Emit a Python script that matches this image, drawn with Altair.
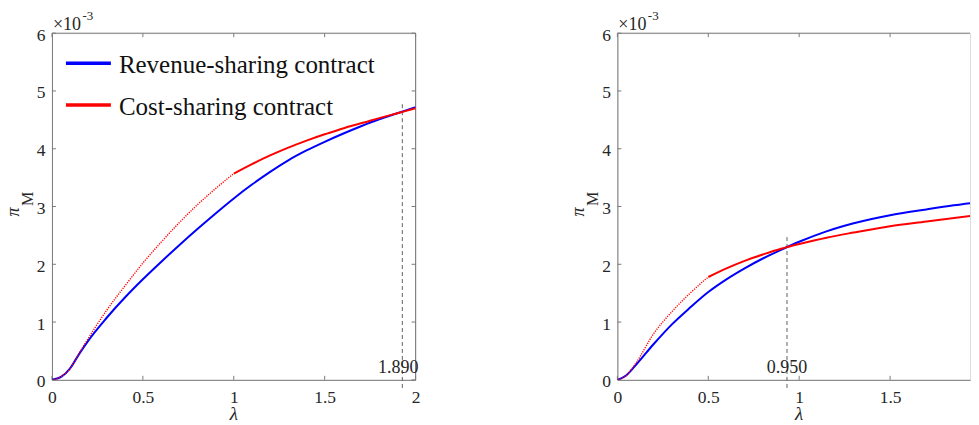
import altair as alt
import pandas as pd

# ---------------- data (pi_M in units of 1e-3) ----------------
x_ticks = [0, 0.5, 1, 1.5, 2]
y_ticks = [0, 1, 2, 3, 4, 5, 6]

series_names = ["Revenue-sharing contract", "Cost-sharing contract"]
series_colors = ["#0000FF", "#FF0000"]

# left panel: revenue-sharing (blue)
lamL_rs = [0, 0.05, 0.1, 0.15, 0.2, 0.3, 0.4, 0.5, 0.6, 0.7, 0.8, 0.9, 1.0,
           1.1, 1.2, 1.3, 1.4, 1.5, 1.6, 1.7, 1.8, 1.9, 2.0]
piL_rs = [0, 0.05, 0.2, 0.45, 0.68, 1.07, 1.42, 1.74, 2.04, 2.33, 2.61, 2.88, 3.14,
          3.38, 3.6, 3.8, 3.97, 4.12, 4.26, 4.39, 4.51, 4.615, 4.72]
# left panel: cost-sharing (red), dotted part then solid part
lamL_cs_dot = [0, 0.05, 0.1, 0.15, 0.2, 0.3, 0.4, 0.5, 0.6, 0.7, 0.8, 0.9, 1.0]
piL_cs_dot = [0, 0.05, 0.2, 0.46, 0.72, 1.2, 1.62, 2.02, 2.38, 2.72, 3.03, 3.31, 3.57]
lamL_cs = [1.0, 1.1, 1.2, 1.3, 1.4, 1.5, 1.6, 1.64, 1.7, 1.8, 1.9, 2.0]
piL_cs = [3.57, 3.735, 3.885, 4.02, 4.14, 4.25, 4.35, 4.39, 4.44, 4.53, 4.615, 4.70]

# right panel: revenue-sharing (blue)
lamR_rs = [0, 0.05, 0.1, 0.2, 0.3, 0.4, 0.5, 0.6, 0.7, 0.8, 0.9, 1.0,
           1.15, 1.3, 1.5, 1.7, 1.85, 2.0]
piR_rs = [0, 0.08, 0.25, 0.62, 0.96, 1.25, 1.52, 1.74, 1.93, 2.1, 2.25, 2.39,
          2.57, 2.71, 2.85, 2.95, 3.02, 3.08]
# right panel: cost-sharing (red)
lamR_cs_dot = [0, 0.05, 0.1, 0.2, 0.3, 0.4, 0.5]
piR_cs_dot = [0, 0.08, 0.28, 0.8, 1.18, 1.5, 1.78]
lamR_cs = [0.5, 0.6, 0.7, 0.8, 0.9, 0.936, 1.0, 1.15, 1.3, 1.5, 1.7, 2.0]
piR_cs = [1.78, 1.93, 2.06, 2.17, 2.27, 2.30, 2.35, 2.46, 2.55, 2.66, 2.74, 2.86]

# vertical reference lines and their labels
vline_x = [1.927, 0.933]
vline_top = [4.77, 2.47]
vline_bottom = -0.14
vline_labels = ["1.890", "0.950"]

# ---------------- styling ----------------
H = 347
W_L = 364            # left panel: lambda 0..2
W_R = 353            # right panel is cut at the page edge
PX_PER_UNIT = W_L / 2.0
FONT = "Liberation Serif"
AX = "#7a7a7a"
TXT = "#262626"

ys = alt.Scale(domain=[0, 6], nice=False, zero=False)


def make_axes(xt):
    xaxis = alt.Axis(values=xt, format="~g", title=None, labelFlush=False,
                     labelOverlap=False, ticks=False, grid=False, domain=True,
                     domainColor=AX, domainWidth=1,
                     labelFont=FONT, labelFontSize=17.5, labelColor=TXT, labelPadding=9)
    yaxis = alt.Axis(values=y_ticks, format="d", title=None, labelFlush=False,
                     labelOverlap=False, ticks=False, grid=False, domain=True,
                     domainColor=AX, domainWidth=1, labelOffset=2,
                     labelFont=FONT, labelFontSize=17.5, labelColor=TXT, labelPadding=7)
    return xaxis, yaxis


def text_layer(txt, x, y, size, angle=0, align="left", color=TXT, style="normal"):
    df = pd.DataFrame({"t": [txt]})
    kw = dict(font=FONT, fontSize=size, color=color, align=align,
              baseline="alphabetic", fontStyle=style)
    if angle:
        kw["angle"] = angle
    return alt.Chart(df).mark_text(**kw).encode(
        text="t:N", x=alt.value(x), y=alt.value(y))


def panel(lam_rs, pi_rs, lam_dot, pi_dot, lam_cs, pi_cs, idx, label_dx, legend, W):
    full = W == W_L
    xmax = W / PX_PER_UNIT
    xs = alt.Scale(domain=[0, xmax], nice=False, zero=False)
    xt = [t for t in x_ticks if t <= xmax + 1e-9]
    xaxis, yaxis = make_axes(xt)

    def X(f):
        return alt.X(f, scale=xs, axis=xaxis)

    def Y(f):
        return alt.Y(f, scale=ys, axis=yaxis)

    def line_layer(lam, pi, color, dash=None, width=2.0):
        df = pd.DataFrame({"lam": lam, "pi": pi})
        kw = dict(color=color, strokeWidth=width, interpolate="monotone", clip=True)
        if dash:
            kw["strokeDash"] = dash
        return alt.Chart(df).mark_line(**kw).encode(x=X("lam:Q"), y=Y("pi:Q"))

    xtd = pd.DataFrame({"t": xt})
    ytd = pd.DataFrame({"t": y_ticks})
    one = ytd.head(1)
    layers = [
        # invisible guide fixing the top of the drawing
        alt.Chart(one).mark_rule(strokeWidth=1, strokeOpacity=0).encode(
            x=alt.value(0), x2=alt.value(10), y=alt.value(-24.5)),
        alt.Chart(xtd).mark_rule(color=AX, strokeWidth=1).encode(
            x=X("t:Q"), y=alt.value(H), y2=alt.value(H - 4)),
        alt.Chart(xtd).mark_rule(color=AX, strokeWidth=1).encode(
            x=X("t:Q"), y=alt.value(0), y2=alt.value(4)),
        alt.Chart(ytd).mark_rule(color=AX, strokeWidth=1).encode(
            y=Y("t:Q"), x=alt.value(0), x2=alt.value(4)),
        # top frame line
        alt.Chart(one).mark_rule(color=AX, strokeWidth=1).encode(
            x=alt.value(0), x2=alt.value(W), y=alt.value(0)),
    ]
    if full:
        layers.append(alt.Chart(ytd).mark_rule(color=AX, strokeWidth=1).encode(
            y=Y("t:Q"), x=alt.value(W - 4), x2=alt.value(W)))
        layers.append(alt.Chart(one).mark_rule(color=AX, strokeWidth=1).encode(
            x=alt.value(W), y=alt.value(0), y2=alt.value(H)))

    vdf = pd.DataFrame({"x": [vline_x[idx]], "y1": [vline_bottom],
                        "y2": [vline_top[idx]], "lab": [vline_labels[idx]]})
    layers.append(alt.Chart(vdf).mark_rule(color="#606060", strokeWidth=1,
                                           strokeDash=[4, 3]).encode(
        x=X("x:Q"), y=Y("y1:Q"), y2="y2:Q"))
    layers.append(alt.Chart(vdf).mark_text(font=FONT, fontSize=18, color=TXT,
                                           align="center", baseline="alphabetic",
                                           dx=label_dx).encode(
        x=X("x:Q"), y=alt.value(340), text="lab:N"))
    layers.append(line_layer(lam_rs, pi_rs, series_colors[0], width=2.0))
    layers.append(line_layer(lam_dot, pi_dot, series_colors[1], dash=[1.2, 1.2], width=1.4))
    layers.append(line_layer(lam_cs, pi_cs, series_colors[1], width=2.0))
    # exponent label
    layers.append(text_layer("×10", 1, -3, 18))
    layers.append(text_layer("-3", 30.5, -13, 13))
    # y title  pi_M
    layers.append(text_layer("π", -33, 179, 18, angle=270, align="center", style="italic"))
    layers.append(text_layer("M", -19, 166, 16, angle=270, align="center"))
    # x title lambda (centred under lambda = 1)
    layers.append(text_layer("λ", PX_PER_UNIT, 387, 19, align="center", style="italic"))
    if legend:
        ys_leg = [30, 72]
        for i, name in enumerate(series_names):
            ldf = pd.DataFrame({"name": [name]})
            layers.append(alt.Chart(ldf).mark_rule(color=series_colors[i],
                                                   strokeWidth=3.5).encode(
                x=alt.value(14), x2=alt.value(59), y=alt.value(ys_leg[i])))
            layers.append(text_layer(name, 67, ys_leg[i] + 9.5, 25, color="#111111"))
    return alt.layer(*layers).properties(width=W, height=H)


left = panel(lamL_rs, piL_rs, lamL_cs_dot, piL_cs_dot, lamL_cs, piL_cs, 0, -4, True, W_L)
right = panel(lamR_rs, piR_rs, lamR_cs_dot, piR_cs_dot, lamR_cs, piR_cs, 1, 0, False, W_R)

chart = alt.hconcat(left, right, spacing=202, bounds="flush").properties(
    padding={"left": -4, "top": 0, "right": 0, "bottom": 0}
).configure_view(stroke="transparent").configure(background="white")

chart.save("out.html", embed_options={"renderer": "svg", "actions": False})
